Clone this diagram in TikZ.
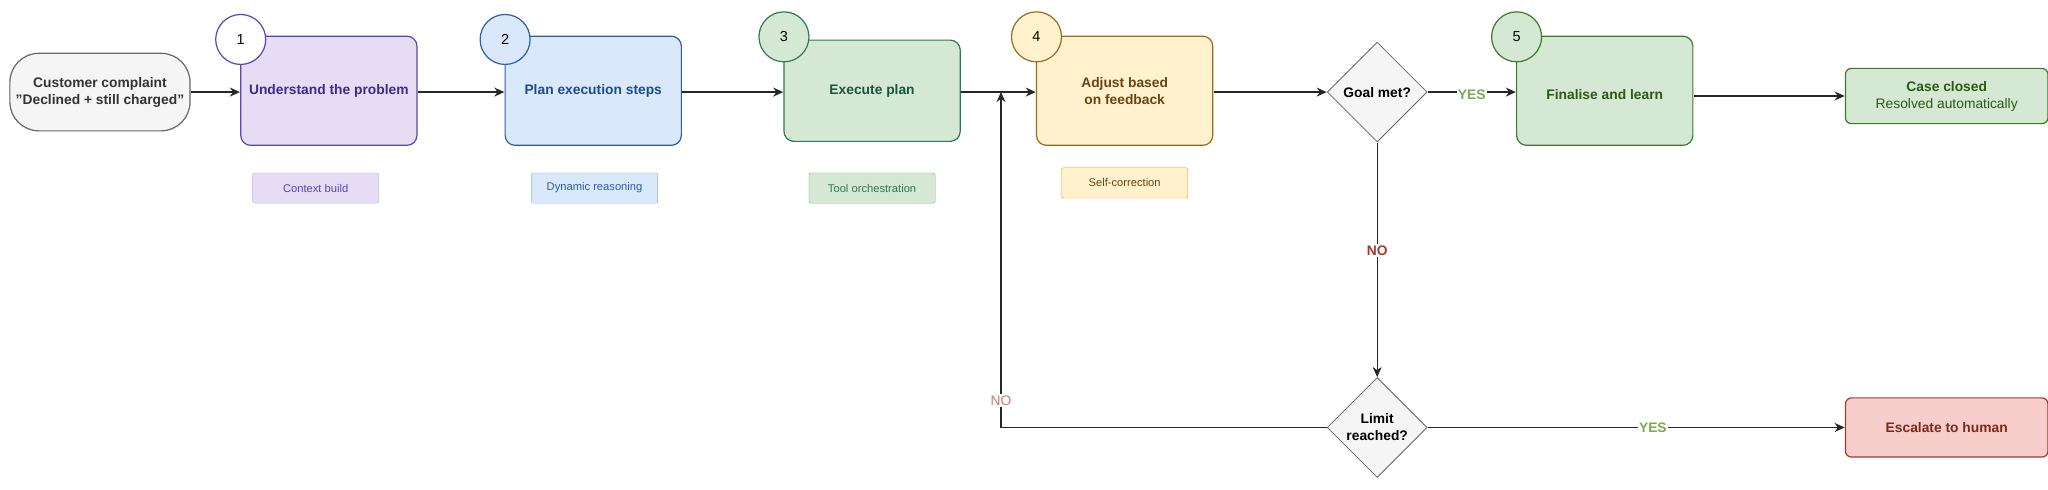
\documentclass[tikz,border=0pt]{standalone}
\usepackage{fontspec}
\setmainfont{Liberation Sans}
\usepackage{tikz}
\usetikzlibrary{shapes.geometric,arrows.meta}

\definecolor{purpF}{HTML}{E6DDF5}
\definecolor{purpD}{HTML}{5646B8}
\definecolor{purpT}{HTML}{3C2A8C}
\definecolor{blueF}{HTML}{DAE8FC}
\definecolor{blueD}{HTML}{2A5FA8}
\definecolor{blueT}{HTML}{1E4B8C}
\definecolor{teaF}{HTML}{D5E8D4}
\definecolor{teaD}{HTML}{2C7A55}
\definecolor{teaT}{HTML}{17583C}
\definecolor{yelF}{HTML}{FFF2CC}
\definecolor{yelD}{HTML}{9C6A1D}
\definecolor{yelT}{HTML}{6B4310}
\definecolor{grnD}{HTML}{3F7A2A}
\definecolor{grnT}{HTML}{2D5A12}
\definecolor{redF}{HTML}{F8CECC}
\definecolor{redD}{HTML}{A33A2A}
\definecolor{redT}{HTML}{7A2A1A}
\definecolor{gryF}{HTML}{F5F5F5}
\definecolor{gryD}{HTML}{666666}
\definecolor{yesC}{HTML}{7AAA4E}
\definecolor{noC}{HTML}{A33A2A}
\definecolor{noL}{HTML}{C97A6E}

\tikzset{
  stepbox/.style={draw, rounded corners=10pt, line width=1.2pt, minimum width=134pt, minimum height=83pt, align=center, font=\bfseries\fontsize{10.5}{13}\selectfont},
  numcirc/.style={circle, draw, line width=1.2pt, minimum size=38pt, inner sep=0pt, font=\fontsize{11}{13}\selectfont},
  tagbox/.style={draw, rounded corners=2pt, minimum width=96pt, minimum height=23pt, font=\fontsize{8.5}{10}\selectfont},
  decide/.style={diamond, draw=gryD, fill=gryF, line width=0.8pt, minimum width=76pt, minimum height=76pt, inner sep=0pt, align=center, font=\bfseries\fontsize{10.5}{13}\selectfont},
  flow/.style={-{Stealth[length=10pt,width=9pt]}, line width=1.3pt, black!85},
  lbl/.style={font=\bfseries\fontsize{10.5}{12}\selectfont, fill=white, inner sep=1pt}
}

\begin{document}
\begin{tikzpicture}[x=1.315pt,y=-1.315pt, every node/.append style={scale=1.315}]
    \useasboundingbox (0,0) rectangle (1557,372);

    \node[draw=gryD, fill=gryF, rounded corners=29pt, line width=1.2pt, minimum width=137pt, minimum height=59pt, align=center, font=\bfseries\fontsize{10.5}{13}\selectfont, text=black!80] (start) at (76,70) {Customer complaint\\"Declined + still charged"};

    \node[stepbox, draw=purpD, fill=purpF, text=purpT] (understand) at (250,69) {Understand the problem};
    \node[stepbox, draw=blueD, fill=blueF, text=blueT] (plan) at (451,69) {Plan execution steps};
    \node[stepbox, draw=teaD, fill=teaF, text=teaT, minimum height=77pt] (execute) at (663,69) {Execute plan};
    \node[stepbox, draw=yelD, fill=yelF, text=yelT] (adjust) at (855,69) {};
    \node[align=center, font=\bfseries\fontsize{10.5}{13}\selectfont, text=yelT] at (855,69) {Adjust based\\on feedback};
    \node[decide] (goal) at (1047,70) {Goal met?};
    \node[stepbox, draw=grnD, fill=teaF, text=grnT] (finalise) at (1220,69) {};
    \node[font=\bfseries\fontsize{10.5}{13}\selectfont, text=grnT] at (1220,72) {Finalise and learn};
    \node[draw=grnD, fill=teaF, rounded corners=6pt, line width=1.2pt, minimum width=154pt, minimum height=42pt, align=center, font=\fontsize{10.5}{13}\selectfont, text=grnT] (closed) at (1480,73) {\textbf{Case closed}\\Resolved automatically};
    \node[decide] (limit) at (1047,325) {Limit\\reached?};
    \node[draw=redD, fill=redF, rounded corners=6pt, line width=1.2pt, minimum width=154pt, minimum height=45pt, font=\bfseries\fontsize{10.5}{13}\selectfont, text=redT] (escalate) at (1480,325) {Escalate to human};

    % step numbers
    \node[numcirc, draw=purpD, fill=white] (n1) at (183,30) {1};
    \node[numcirc, draw=blueD, fill=blueF] (n2) at (384,30) {2};
    \node[numcirc, draw=teaD, fill=teaF] (n3) at (596,28) {3};
    \node[numcirc, draw=yelD, fill=yelF] (n4) at (788,28) {4};
    \node[numcirc, draw=grnD, fill=teaF] (n5) at (1153,28) {5};

    % tags
    \node[tagbox, draw=purpD!40, fill=purpF, text=purpD] (t1) at (240,143) {Context build};
    \node[tagbox, draw=blueD!50, fill=blueF, text=blueD] (t2) at (452,143) {Dynamic reasoning};
    \node[tagbox, draw=teaD!60, fill=teaF, text=teaD] (t3) at (663,143) {Tool orchestration};
    \node[tagbox, draw=orange!90, fill=yelF, text=yelT] (t4) at (855,139) {Self-correction};

    \coordinate (loopin) at (761,70);
    \coordinate (corner) at (761,325);

    \draw[flow] (start) -- (understand.west |- start);
    \draw[flow] (understand.east |- start) -- (plan.west |- start);
    \draw[flow] (plan.east |- start) -- (execute.west |- start);
    \draw[flow] (execute.east |- start) -- (adjust.west |- start);
    \draw[flow] (adjust.east |- start) -- (goal.west);
    \draw[flow] (goal.east) -- node[lbl, text=yesC, yshift=-2pt] {YES} (finalise.west |- goal);
    \draw[flow] (finalise.east |- 0,73) -- (closed.west);
    \draw[flow, line width=0.8pt] (goal.south) -- node[lbl, text=noC, pos=0.46] {NO} (limit.north);
    \draw[flow] (limit.east) -- node[lbl, text=yesC, pos=0.54] {YES} (escalate.west);
    \draw[flow] (limit.west) -- (corner) -- node[lbl, text=noL, font=\fontsize{10.5}{12}\selectfont, pos=0.08] {NO} (loopin);
\end{tikzpicture}
\end{document}
